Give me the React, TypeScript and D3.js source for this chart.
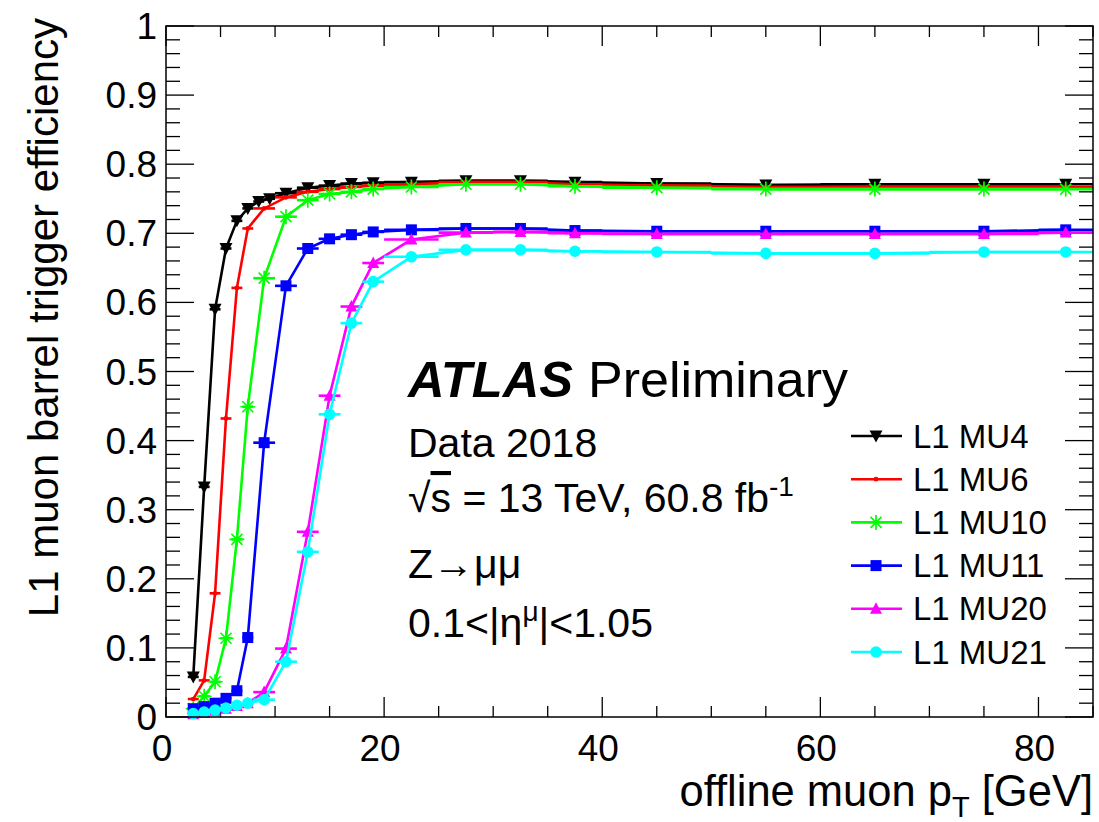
import React from "react";
import * as d3 from "d3";

// ---- data ----
const binsFine = [2, 3, 4, 5, 6, 7, 8, 9, 10, 12, 14, 16, 18, 20, 25, 30, 35, 40, 50, 60, 70, 80, 85];
const binsCoarse = [2, 3, 4, 5, 6, 7, 8, 10, 12, 14, 16, 18, 20, 25, 30, 35, 40, 50, 60, 70, 80, 85];

const effMU4 = [0.058, 0.333, 0.59, 0.678, 0.718, 0.736, 0.746, 0.75, 0.758, 0.766, 0.769, 0.772, 0.773, 0.774, 0.776, 0.776, 0.774, 0.772, 0.77, 0.771, 0.771, 0.771];
const effMU6 = [0.026, 0.053, 0.179, 0.432, 0.621, 0.707, 0.736, 0.752, 0.76, 0.764, 0.767, 0.769, 0.771, 0.774, 0.774, 0.771, 0.769, 0.767, 0.767, 0.767, 0.767];
const effMU10 = [0.012, 0.03, 0.051, 0.114, 0.257, 0.449, 0.635, 0.724, 0.748, 0.757, 0.76, 0.764, 0.767, 0.771, 0.771, 0.768, 0.766, 0.764, 0.764, 0.764, 0.764];
const effMU11 = [0.012, 0.015, 0.02, 0.027, 0.038, 0.115, 0.397, 0.624, 0.678, 0.692, 0.698, 0.702, 0.705, 0.707, 0.707, 0.704, 0.703, 0.703, 0.703, 0.703, 0.705];
const effMU20 = [0.004, 0.006, 0.009, 0.012, 0.016, 0.02, 0.036, 0.099, 0.268, 0.465, 0.594, 0.657, 0.691, 0.701, 0.702, 0.7, 0.699, 0.699, 0.699, 0.699, 0.701];
const effMU21 = [0.005, 0.007, 0.01, 0.013, 0.017, 0.02, 0.025, 0.08, 0.239, 0.438, 0.57, 0.63, 0.666, 0.676, 0.676, 0.674, 0.673, 0.671, 0.671, 0.673, 0.673];

const seriesNames = ["L1 MU4", "L1 MU6", "L1 MU10", "L1 MU11", "L1 MU20", "L1 MU21"];
const seriesColors = ["#000000", "#ff0000", "#00ff00", "#0000ff", "#ff00ff", "#00ffff"];
const seriesMarkers = ["triDown", "dot", "star", "square", "triUp", "circle"];
const seriesBins = [binsFine, binsCoarse, binsCoarse, binsCoarse, binsCoarse, binsCoarse];
const seriesEff = [effMU4, effMU6, effMU10, effMU11, effMU20, effMU21];

const xTickLabels = [0, 20, 40, 60, 80];
const yTickLabels = [0, 0.1, 0.2, 0.3, 0.4, 0.5, 0.6, 0.7, 0.8, 0.9, 1];

// ---- layout ----
const W = 1099, H = 822;
const L = 166, R = 1093, T = 26, B = 717;
const FONT = "'Liberation Sans', Arial, Helvetica, sans-serif";
const LW = 2.6;

const x = d3.scaleLinear().domain([0, 85]).range([L, R]);
const y = d3.scaleLinear().domain([0, 1]).range([B, T]);

function Marker({ type, cx, cy, color }: { type: string; cx: number; cy: number; color: string }) {
  switch (type) {
    case "triDown":
      return <path d={`M${cx - 6.5},${cy - 5.5}L${cx + 6.5},${cy - 5.5}L${cx},${cy + 6.5}Z`} fill={color} />;
    case "dot":
      return <circle cx={cx} cy={cy} r={2.4} fill={color} />;
    case "star": {
      const r = 7.5, d = 5.5;
      return (
        <path
          d={`M${cx - r},${cy}L${cx + r},${cy}M${cx},${cy - r}L${cx},${cy + r}M${cx - d},${cy - d}L${cx + d},${cy + d}M${cx - d},${cy + d}L${cx + d},${cy - d}`}
          stroke={color}
          strokeWidth={1.7}
          fill="none"
        />
      );
    }
    case "square":
      return <rect x={cx - 5.5} y={cy - 5.5} width={11} height={11} fill={color} />;
    case "triUp":
      return <path d={`M${cx - 6},${cy + 5}L${cx + 6},${cy + 5}L${cx},${cy - 6.5}Z`} fill={color} />;
    case "circle":
      return <circle cx={cx} cy={cy} r={5.8} fill={color} />;
    default:
      return null;
  }
}

export default function App() {
  const line = d3
    .line<[number, number]>()
    .x((d) => x(d[0]))
    .y((d) => y(d[1]));

  const xMinor = d3.range(0, 85.01, 5);
  const yMinor = d3.range(0, 1.0001, 0.02);

  const legendY0 = 436, legendDy = 43.2;

  return (
    <svg width={W} height={H} style={{ display: "block", position: "absolute", left: 0, top: 0 }} fontFamily={FONT}>
      <rect x={0} y={0} width={W} height={H} fill="#fff" />
      {/* ticks */}
      <g stroke="#000" strokeWidth={1.3}>
        {xMinor.map((v) => {
          const major = xTickLabels.includes(v);
          const len = major ? 20 : 11;
          return (
            <g key={"xt" + v}>
              <line x1={x(v)} x2={x(v)} y1={B} y2={B - len} />
              <line x1={x(v)} x2={x(v)} y1={T} y2={T + len} />
            </g>
          );
        })}
        {yMinor.map((v, i) => {
          const major = i % 5 === 0;
          const len = major ? 28 : 14;
          return (
            <g key={"yt" + i}>
              <line x1={L} x2={L + len} y1={y(v)} y2={y(v)} />
              <line x1={R} x2={R - len} y1={y(v)} y2={y(v)} />
            </g>
          );
        })}
      </g>
      {/* series */}
      {seriesEff.map((eff, si) => {
        const bins = seriesBins[si];
        const color = seriesColors[si];
        const pts: [number, number][] = eff.map((e, i) => [(bins[i] + bins[i + 1]) / 2, e]);
        return (
          <g key={"s" + si}>
            <path d={line(pts) || ""} stroke={color} strokeWidth={LW} fill="none" />
            {eff.map((e, i) => (
              <line key={"e" + i} x1={x(bins[i])} x2={x(bins[i + 1])} y1={y(e)} y2={y(e)} stroke={color} strokeWidth={LW} />
            ))}
            {pts.map((p, i) => (
              <Marker key={"m" + i} type={seriesMarkers[si]} cx={x(p[0])} cy={y(p[1])} color={color} />
            ))}
          </g>
        );
      })}
      {/* frame */}
      <rect x={L} y={T} width={R - L} height={B - T} fill="none" stroke="#000" strokeWidth={1.5} />
      {/* tick labels */}
      <g fontSize={37} fill="#000">
        {yTickLabels.map((v) => (
          <text key={"yl" + v} x={157} y={y(v) + 13} textAnchor="end">
            {v === 0 || v === 1 ? String(v) : v.toFixed(1)}
          </text>
        ))}
        {xTickLabels.map((v) => (
          <text key={"xl" + v} x={x(v) - 4} y={761} textAnchor="middle">
            {v}
          </text>
        ))}
      </g>
      {/* axis titles */}
      <text x={1093} y={806} textAnchor="end" fontSize={43.5}>
        offline muon p
        <tspan fontSize={29} dy={11}>T</tspan>
        <tspan dy={-11}> [GeV]</tspan>
      </text>
      <text transform={`translate(58,18) rotate(-90)`} textAnchor="end" fontSize={42}>
        L1 muon barrel trigger efficiency
      </text>
      {/* annotations */}
      <text x={408} y={397} fontSize={50} fontWeight="bold" fontStyle="italic" textLength={165} lengthAdjust="spacingAndGlyphs">
        ATLAS
      </text>
      <text x={588} y={397} fontSize={50} textLength={260} lengthAdjust="spacingAndGlyphs">
        Preliminary
      </text>
      <g fontSize={41}>
        <text x={408} y={457}>Data 2018</text>
        <text x={408} y={512}>
          √<tspan style={{ textDecoration: "overline" }}>s</tspan> = 13 TeV, 60.8 fb
          <tspan fontSize={28} dy={-16}>-1</tspan>
        </text>
        <text x={408} y={578}>Z→μμ</text>
        <text x={408} y={637}>
          0.1&lt;|η<tspan fontSize={28} dy={-16}>μ</tspan>
          <tspan dy={16}>|&lt;1.05</tspan>
        </text>
      </g>
      {/* legend */}
      {seriesNames.map((n, i) => {
        const cy = legendY0 + i * legendDy;
        return (
          <g key={"lg" + i}>
            <line x1={851} x2={902} y1={cy} y2={cy} stroke={seriesColors[i]} strokeWidth={LW} />
            <Marker type={seriesMarkers[i]} cx={876} cy={cy} color={seriesColors[i]} />
            <text x={913} y={cy + 11.5} fontSize={33}>
              {n}
            </text>
          </g>
        );
      })}
    </svg>
  );
}
